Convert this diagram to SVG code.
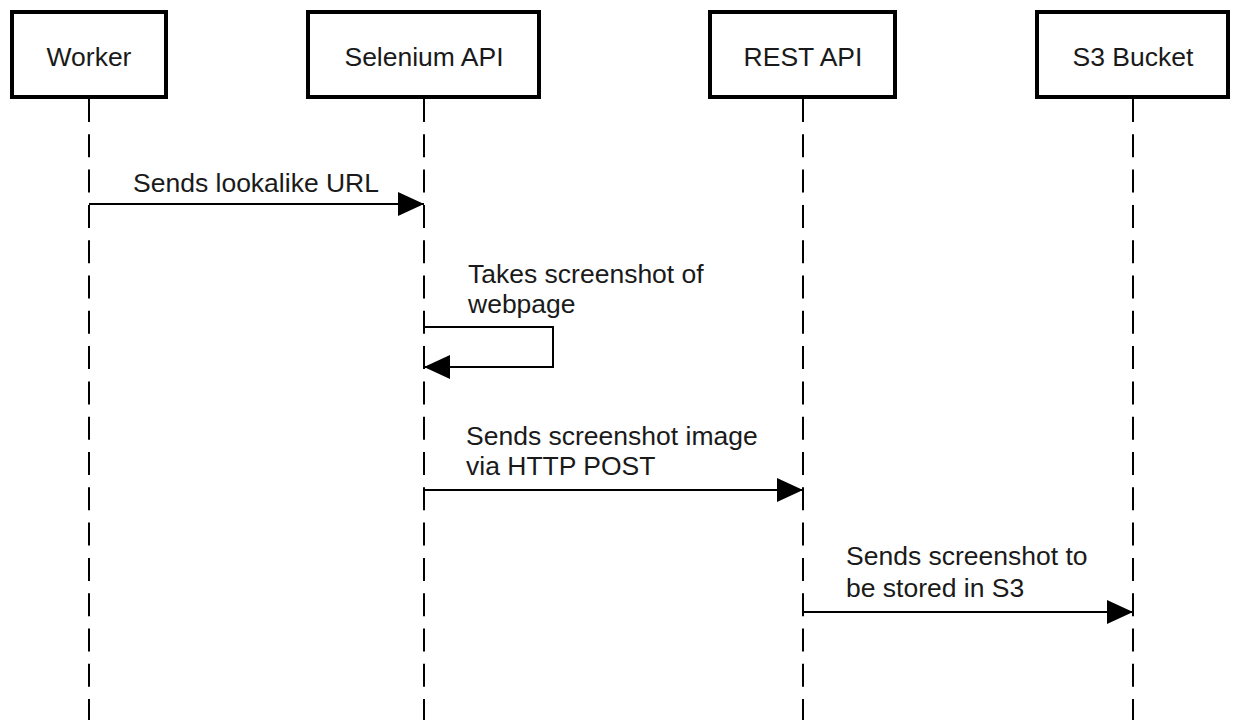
<svg xmlns="http://www.w3.org/2000/svg" width="1233" height="720" viewBox="0 0 1233 720">
  <style>
    .box { fill: #ffffff; stroke: #000000; stroke-width: 4; }
    .lbl { font-family: "Liberation Sans", Arial, sans-serif; font-size: 26.5px; fill: #1a1a1a; }
    .life { stroke: #000000; stroke-width: 2; stroke-dasharray: 23 12.3; fill: none; }
    .msg { stroke: #000000; stroke-width: 2; fill: none; }
  </style>
  <defs>
    <marker id="arr" viewBox="0 0 26 24" refX="26" refY="12" markerWidth="26" markerHeight="24" markerUnits="userSpaceOnUse" orient="auto">
      <path d="M0,0 L26,12 L0,24 Z" fill="#000000"/>
    </marker>
  </defs>
  <rect width="1233" height="720" fill="#ffffff"/>
  <g id="lifelines">
    <line class="life" x1="89" y1="99" x2="89" y2="720"/>
    <line class="life" x1="424" y1="99" x2="424" y2="720"/>
    <line class="life" x1="803" y1="99" x2="803" y2="720"/>
    <line class="life" x1="1133" y1="99" x2="1133" y2="720"/>
  </g>
  <g id="node-worker">
    <rect class="box" x="12" y="12" width="154" height="85"/>
    <text class="lbl" x="89" y="66" text-anchor="middle">Worker</text>
  </g>
  <g id="node-selenium">
    <rect class="box" x="308" y="12" width="231" height="85"/>
    <text class="lbl" x="424" y="66" text-anchor="middle">Selenium API</text>
  </g>
  <g id="node-rest">
    <rect class="box" x="710" y="12" width="185" height="85"/>
    <text class="lbl" x="803" y="66" text-anchor="middle">REST API</text>
  </g>
  <g id="node-s3">
    <rect class="box" x="1037" y="12" width="191" height="85"/>
    <text class="lbl" x="1133" y="66" text-anchor="middle">S3 Bucket</text>
  </g>
  <g id="connectors">
    <line class="msg" x1="89" y1="204" x2="424" y2="204" marker-end="url(#arr)"/>
    <text class="lbl" x="133" y="192">Sends lookalike URL</text>
    <path class="msg" d="M424,327 H553 V367 H424" marker-end="url(#arr)"/>
    <text class="lbl" x="468" y="283">Takes screenshot of</text>
    <text class="lbl" x="468" y="313">webpage</text>
    <line class="msg" x1="424" y1="490" x2="803" y2="490" marker-end="url(#arr)"/>
    <text class="lbl" x="466" y="445">Sends screenshot image</text>
    <text class="lbl" x="466" y="475">via HTTP POST</text>
    <line class="msg" x1="803" y1="612" x2="1133" y2="612" marker-end="url(#arr)"/>
    <text class="lbl" x="846" y="565">Sends screenshot to</text>
    <text class="lbl" x="846" y="597">be stored in S3</text>
  </g>
</svg>
